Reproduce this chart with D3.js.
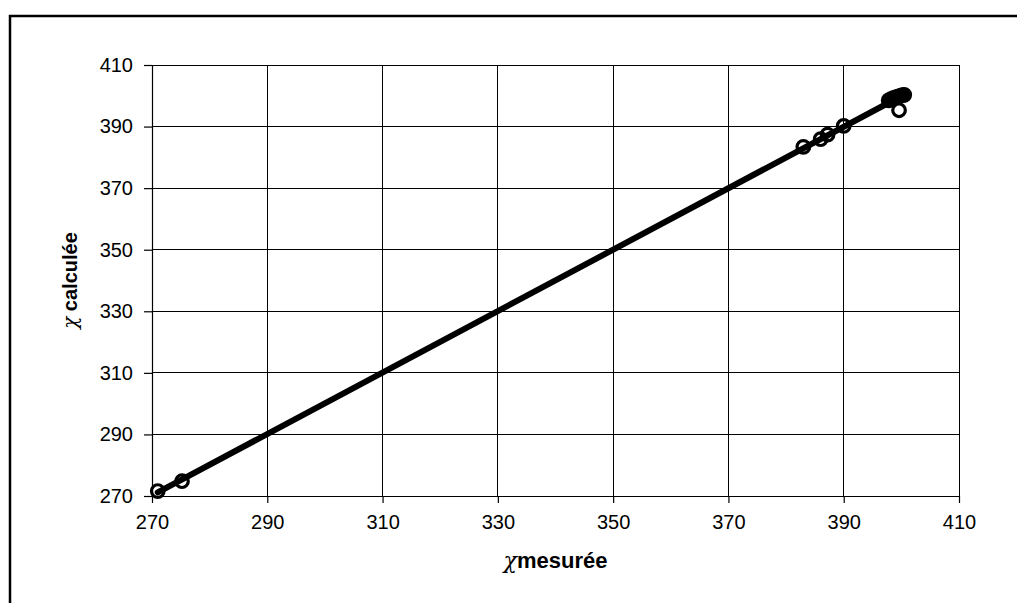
<!DOCTYPE html>
<html>
<head>
<meta charset="utf-8">
<script src="https://cdn.jsdelivr.net/npm/d3@7"></script>
<style>
  html, body { margin: 0; padding: 0; background: #fff; }
  svg { display: block; }
  text { font-family: "Liberation Sans", Arial, sans-serif; fill: #000; }
</style>
</head>
<body>
<svg id="chart" width="1017" height="603"></svg>
<script>
// Measured vs. calculated susceptibility
const measured   = [271.0, 275.2, 383.0, 386.0, 387.2, 390.0, 397.8, 398.2, 398.6, 399.0, 399.4, 399.8, 400.2, 400.5, 399.6];
const calculated = [271.6, 274.8, 383.4, 385.9, 387.4, 390.2, 398.5, 398.9, 399.2, 399.5, 399.7, 400.0, 400.2, 400.3, 395.3];
const xTicks = [270, 290, 310, 330, 350, 370, 390, 410];
const yTicks = [270, 290, 310, 330, 350, 370, 390, 410];

const svg = d3.select("#chart");
const plot = { left: 152, right: 959, top: 65, bottom: 496 };

const x = d3.scaleLinear().domain([270, 410]).range([plot.left, plot.right]);
const y = d3.scaleLinear().domain([270, 410]).range([plot.bottom, plot.top]);

// outer frame (runs off the right and bottom edges)
svg.append("path")
  .attr("d", `M10,610 L10,16 L1030,16`)
  .attr("fill", "none").attr("stroke", "#000").attr("stroke-width", 2.5);

// grid
const grid = svg.append("g").attr("stroke", "#000").attr("stroke-width", 1).attr("shape-rendering", "crispEdges");
grid.selectAll(".gx").data(xTicks).join("line")
  .attr("x1", d => x(d)).attr("x2", d => x(d))
  .attr("y1", plot.top).attr("y2", plot.bottom);
grid.selectAll(".gy").data(yTicks).join("line")
  .attr("x1", plot.left).attr("x2", plot.right)
  .attr("y1", d => y(d)).attr("y2", d => y(d));

// axes
const xAxis = svg.append("g")
  .attr("transform", `translate(0,${plot.bottom})`)
  .call(d3.axisBottom(x).tickValues(xTicks).tickSize(7).tickPadding(12).tickSizeOuter(0));
const yAxis = svg.append("g")
  .attr("transform", `translate(${plot.left},0)`)
  .call(d3.axisLeft(y).tickValues(yTicks).tickSize(8).tickPadding(11).tickSizeOuter(0));
[xAxis, yAxis].forEach(a => {
  a.select(".domain").attr("stroke", "#000").attr("stroke-width", 1.2);
  a.selectAll(".tick line").attr("stroke", "#000").attr("stroke-width", 1.2);
  a.selectAll("text").attr("font-size", 20).attr("font-family", "Liberation Sans, Arial, sans-serif").attr("fill", "#000");
});

// least-squares trend line over the measured range
const mx = d3.mean(measured), my = d3.mean(calculated);
const slope = d3.sum(measured, (v, i) => (v - mx) * (calculated[i] - my)) / d3.sum(measured, v => (v - mx) ** 2);
const icpt = my - slope * mx;
const ext = d3.extent(measured);
svg.append("path")
  .datum(ext.map(v => [v, icpt + slope * v]))
  .attr("d", d3.line().x(d => x(d[0])).y(d => y(d[1])))
  .attr("fill", "none").attr("stroke", "#000").attr("stroke-width", 6).attr("stroke-linecap", "round");

// data points
svg.append("g").selectAll("circle").data(measured).join("circle")
  .attr("cx", d => x(d))
  .attr("cy", (d, i) => y(calculated[i]))
  .attr("r", 6.3)
  .attr("fill", "none").attr("stroke", "#000").attr("stroke-width", 3.2);

// axis titles
const xt = svg.append("text")
  .attr("x", (plot.left + plot.right) / 2).attr("y", 568)
  .attr("text-anchor", "middle").attr("font-size", 22).attr("font-weight", "bold");
xt.append("tspan").attr("font-weight", "normal").attr("font-family", "DejaVu Serif, serif").attr("font-style", "italic").text("χ");
xt.append("tspan").text("mesurée");

const yt = svg.append("text")
  .attr("transform", `translate(77,${(plot.top + plot.bottom) / 2}) rotate(-90)`)
  .attr("text-anchor", "middle").attr("font-size", 20).attr("font-weight", "bold");
yt.append("tspan").attr("font-weight", "normal").attr("font-family", "DejaVu Serif, serif").attr("font-style", "italic").text("χ");
yt.append("tspan").text(" calculée");
</script>
</body>
</html>
